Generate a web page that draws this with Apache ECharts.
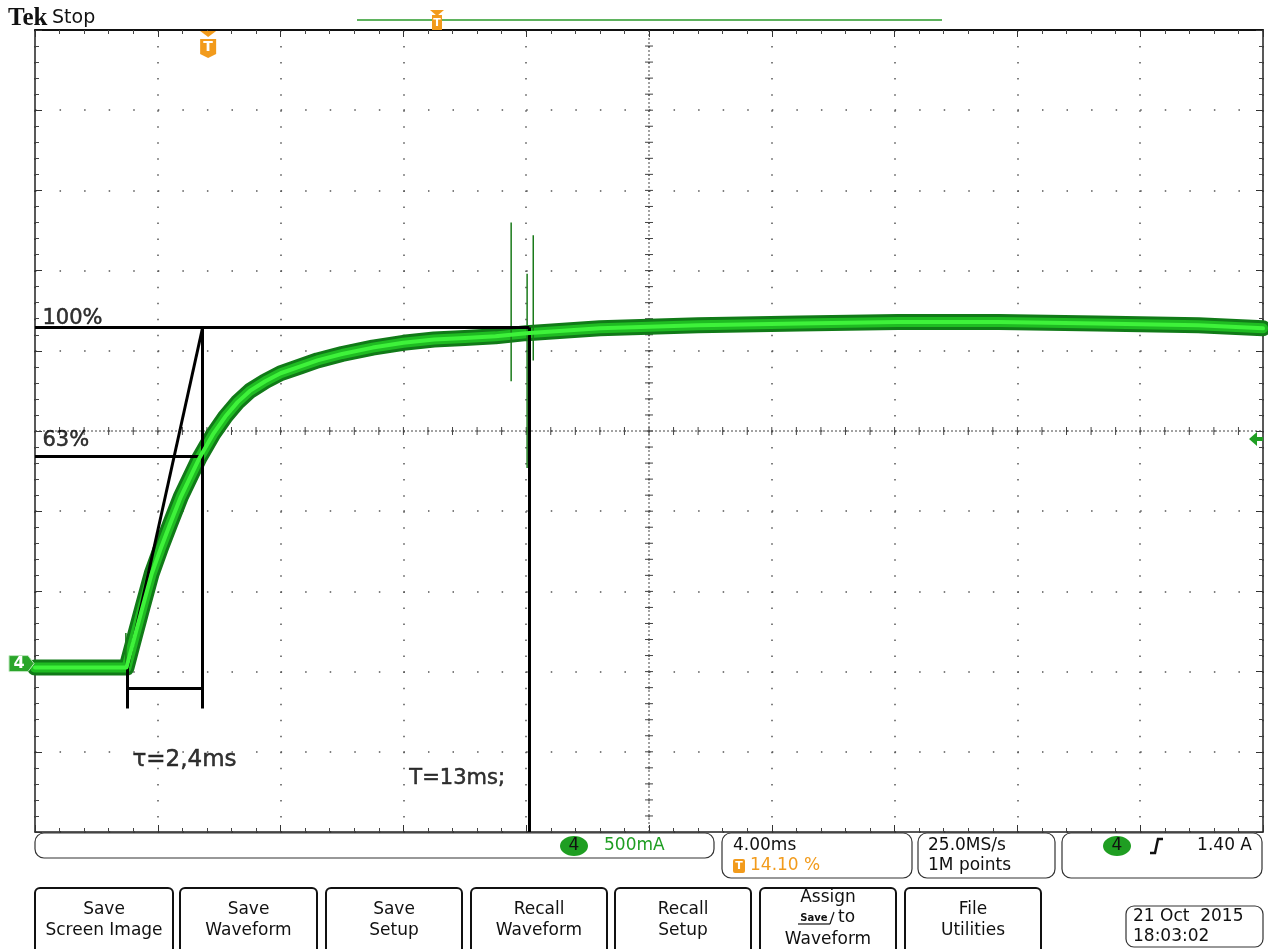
<!DOCTYPE html>
<html>
<head>
<meta charset="utf-8">
<script src="https://cdn.jsdelivr.net/npm/echarts/dist/echarts.min.js"></script>
<style>
html,body{margin:0;padding:0;background:#fff;}
#chart{width:1268px;height:949px;}
</style>
</head>
<body>
<div id="chart"></div>
<script>
// ---- data (time in ms from left edge of screen, current in A) ----
const timeMs   = [0, 2.98, 3.02, 3.25, 3.5, 3.8, 4.1, 4.4, 4.75, 5.05, 5.35, 5.8, 6.2, 6.6, 7.0, 7.5, 8.0, 8.6, 9.2, 10.0, 11.0, 12.0, 13.0, 14.0, 15.0, 16.0, 18.4, 21.6, 24.9, 28.1, 31.4, 34.6, 37.9, 40];
const currentA = [-0.025, -0.025, -0.02, 0.17, 0.35, 0.56, 0.72, 0.87, 1.04, 1.16, 1.28, 1.43, 1.54, 1.63, 1.70, 1.76, 1.81, 1.85, 1.89, 1.93, 1.97, 2.00, 2.02, 2.03, 2.04, 2.06, 2.09, 2.11, 2.12, 2.13, 2.13, 2.12, 2.11, 2.09];
// glitches
const spikeTimeMs = [2.96, 15.51, 16.03, 16.23];
const spikeHighA  = [0.19, 2.75, 2.43, 2.67];
const spikeLowA   = [-0.02, 1.76, 1.22, 1.89];
// scope settings
const timePerDivMs = 4.0;
const ampsPerDiv = 0.5;
const triggerPct = 14.10;
const triggerLevelA = 1.40;
const yMinA = -1.05, yMaxA = 3.95;
// annotation values
const level100 = 2.095, level63 = 1.29;
const tStart = 3.02, tTau = 5.46, tEnd = 16.1;
const bracketA = -0.156, tickEndA = -0.28;
const annoLabels = [
  {t: 0.26, a: 2.15, text: '100%', size: 21},
  {t: 0.26, a: 1.385, text: '63%', size: 21},
  {t: 3.19, a: -0.605, text: 'τ=2,4ms', size: 23},
  {t: 12.21, a: -0.717, text: 'T=13ms;', size: 21}
];

const traceData = timeMs.map((t, i) => [t, currentA[i]]);
const spikeData = [];
spikeTimeMs.forEach((t, i) => { spikeData.push([t, spikeLowA[i]], [t, spikeHighA[i]], [t, null]); });

const GL = 35, GT = 30, GW = 1228, GH = 802;
const chart = echarts.init(document.getElementById('chart'));

function traceSeries(width, color, z) {
  return {type: 'line', data: traceData, xAxisIndex: 0, yAxisIndex: 0, symbol: 'none',
    smooth: false, z: z, silent: true, animation: false,
    lineStyle: {width: width, color: color, cap: 'round', join: 'round'}};
}
const seg = (a, b) => [{coord: a}, {coord: b}];

const baseAxis = {type: 'value', min: 0, max: 10 * timePerDivMs, interval: timePerDivMs};
chart.setOption({
  animation: false,
  grid: {left: GL, top: GT, width: GW, height: GH, containLabel: false},
  xAxis: [
    Object.assign({}, baseAxis, {position: 'bottom',
      axisLine: {show: true, onZero: false, lineStyle: {color: '#222', width: 1.5}},
      axisTick: {show: true, inside: true, length: 7, lineStyle: {color: '#333', width: 1}},
      minorTick: {show: true, splitNumber: 5, length: 4, lineStyle: {color: '#444', width: 1}},
      axisLabel: {show: false},
      splitLine: {show: true, lineStyle: {color: '#555', width: 1.5, type: [1.5, 14.54]}}}),
    Object.assign({}, baseAxis, {position: 'top',
      axisLine: {show: true, onZero: false, lineStyle: {color: '#111', width: 2}},
      axisTick: {show: true, inside: true, length: 7, lineStyle: {color: '#333', width: 1}},
      minorTick: {show: true, splitNumber: 5, length: 4, lineStyle: {color: '#444', width: 1}},
      axisLabel: {show: false}, splitLine: {show: false}})
  ],
  yAxis: [
    {type: 'value', min: yMinA, max: yMaxA, interval: ampsPerDiv, position: 'left',
      axisLine: {show: true, onZero: false, lineStyle: {color: '#222', width: 1.5}},
      axisTick: {show: true, inside: true, length: 7, lineStyle: {color: '#333', width: 1}},
      minorTick: {show: true, splitNumber: 5, length: 4, lineStyle: {color: '#444', width: 1}},
      axisLabel: {show: false},
      splitLine: {show: true, lineStyle: {color: '#555', width: 1.5, type: [1.5, 23.06]}}},
    {type: 'value', min: yMinA, max: yMaxA, interval: ampsPerDiv, position: 'right',
      axisLine: {show: true, onZero: false, lineStyle: {color: '#222', width: 1.5}},
      axisTick: {show: true, inside: true, length: 7, lineStyle: {color: '#333', width: 1}},
      minorTick: {show: true, splitNumber: 5, length: 4, lineStyle: {color: '#444', width: 1}},
      axisLabel: {show: false}, splitLine: {show: false}}
  ],
  series: [
    traceSeries(16, '#117a18', 3),
    traceSeries(10, '#1fbb22', 4),
    traceSeries(4, '#3ef23a', 5),
    {type: 'line', data: spikeData, symbol: 'none', connectNulls: false, z: 4, silent: true,
      lineStyle: {width: 1.5, color: '#1a7a1a'}},
    {type: 'line', data: [], z: 8, silent: true,
      markLine: {silent: true, symbol: ['none', 'none'], label: {show: false}, animation: false,
        lineStyle: {color: '#000', width: 3, type: 'solid'},
        emphasis: {disabled: true},
        data: [
          seg([0, level100], [tEnd, level100]),
          seg([0, level63], [tTau, level63]),
          seg([tTau, level100], [tTau, tickEndA]),
          seg([tStart, currentA[2]], [tStart, tickEndA]),
          seg([tStart, bracketA], [tTau, bracketA]),
          seg([tStart, currentA[2]], [tTau, level100]),
          seg([tEnd, level100], [tEnd, yMinA])
        ]}},
    {type: 'scatter', z: 9, silent: true, symbolSize: 1, itemStyle: {color: 'transparent'},
      data: annoLabels.map(l => ({value: [l.t, l.a], name: l.text,
        label: {fontSize: l.size}})),
      label: {show: true, position: [0, 0], formatter: p => p.name, color: '#000',
        textBorderColor: '#000', textBorderWidth: 0.5,
        fontFamily: 'DejaVu Sans', fontSize: 21, align: 'left', verticalAlign: 'middle'}}
  ]
});

// ---- decorations computed from the axis scales ----
const px = t => chart.convertToPixel({xAxisIndex: 0}, t);
const py = a => chart.convertToPixel({yAxisIndex: 0}, a);
const g = [];
const ORANGE = '#f29b1c', GREEN = '#1f9e22';
function txt(x, y, text, font, fill, align, z) {
  g.push({type: 'text', x: x, y: y, z: z || 20, silent: true,
    style: {text: text, font: font, fill: fill || '#111', align: align || 'left', textAlign: align || 'left',
      verticalAlign: 'middle', textVerticalAlign: 'middle'}});
}
function line(x1, y1, x2, y2, stroke, w, dash, z) {
  g.push({type: 'line', z: z || 1, silent: true, shape: {x1, y1, x2, y2},
    style: {stroke: stroke, lineWidth: w, lineDash: dash || null}});
}
function rrect(x, y, w, h, r, stroke, lw, fill, z) {
  g.push({type: 'rect', z: z || 20, silent: true, shape: {x, y, width: w, height: h, r: r},
    style: {stroke: stroke, lineWidth: lw, fill: fill || '#fff'}});
}
function poly(points, fill, stroke, z) {
  g.push({type: 'polygon', z: z || 20, silent: true, shape: {points: points},
    style: {fill: fill, stroke: stroke || null, lineWidth: 1}});
}

// center cross
const cx = px(5 * timePerDivMs), cy = py((yMinA + yMaxA) / 2);
const L = px(0), R = px(10 * timePerDivMs), TOP = py(yMaxA), BOT = py(yMinA);
line(L, cy, R, cy, '#444', 1, [2, 2], 1);
line(cx, TOP, cx, BOT, '#444', 1, [2, 2], 1);
for (let k = 1; k < 50; k++) {
  const x = L + (R - L) * k / 50;
  line(x, cy - 4, x, cy + 4, '#444', 1, null, 1);
  const y = TOP + (BOT - TOP) * k / 50;
  line(cx - 4, y, cx + 4, y, '#444', 1, null, 1);
}

// header
txt(8, 19, 'Tek', 'bold 25px "Liberation Serif"', '#111');
txt(52, 18, 'Stop', '19px "DejaVu Sans"', '#111');
line(357, 20, 942, 20, '#2a9a2a', 1.5, null, 20);
g.push({type: 'rect', z: 21, silent: true, shape: {x: 432, y: 15, width: 10, height: 15}, style: {fill: ORANGE}});
poly([[430, 10], [444, 10], [437, 16]], ORANGE, null, 21);
txt(437, 23, 'T', 'bold 11px "DejaVu Sans"', '#fff', 'center', 22);

// trigger position marker
const tx = px(triggerPct / 100 * 10 * timePerDivMs);
poly([[tx - 8, 31], [tx + 8, 31], [tx, 37]], ORANGE, null, 21);
poly([[tx - 8, 39], [tx + 8, 39], [tx + 8, 54], [tx, 58], [tx - 8, 54]], ORANGE, null, 21);
txt(tx, 47, 'T', 'bold 14px "DejaVu Sans"', '#fff', 'center', 22);

// ground marker for channel 4
const y0 = py(0);
poly([[9, y0 - 8], [28, y0 - 8], [34, y0], [28, y0 + 8], [9, y0 + 8]], '#2aa52a', '#bfe8bf', 21);
txt(19, y0, '4', 'bold 16px "DejaVu Sans"', '#fff', 'center', 22);

// trigger level arrow
const ty = py(triggerLevelA);
poly([[1249, ty], [1257, ty - 7], [1257, ty - 2], [1263, ty - 2], [1263, ty + 2], [1257, ty + 2], [1257, ty + 7]], GREEN, null, 21);

// status bar
const F = '17px "DejaVu Sans"';
rrect(35, 833, 679, 25, 9, '#333', 1.2);
g.push({type: 'ellipse', z: 21, silent: true, shape: {cx: 574, cy: 846, rx: 14, ry: 10}, style: {fill: GREEN}});
txt(574, 846, '4', F, '#111', 'center', 22);
txt(604, 846, '500mA', F, GREEN);
rrect(722, 833, 190, 45, 9, '#333', 1.2);
txt(733, 846, '4.00ms', F, '#111');
g.push({type: 'rect', z: 21, silent: true, shape: {x: 733, y: 859, width: 12, height: 14, r: 2}, style: {fill: ORANGE}});
txt(739, 866, 'T', 'bold 11px "DejaVu Sans"', '#fff', 'center', 22);
txt(750, 866, '14.10 %', F, ORANGE);
rrect(918, 833, 137, 45, 9, '#333', 1.2);
txt(928, 846, '25.0MS/s', F, '#111');
txt(928, 866, '1M points', F, '#111');
rrect(1062, 833, 200, 45, 9, '#333', 1.2);
g.push({type: 'ellipse', z: 21, silent: true, shape: {cx: 1117, cy: 846, rx: 14, ry: 10}, style: {fill: GREEN}});
txt(1117, 846, '4', F, '#111', 'center', 22);
g.push({type: 'polyline', z: 21, silent: true, shape: {points: [[1150, 853], [1155, 853], [1158, 839], [1163, 839]]},
  style: {stroke: '#111', lineWidth: 2.5, fill: null}});
txt(1252, 846, '1.40 A', F, '#111', 'right');

// soft buttons
const buttons = [
  {x: 35, w: 138, lines: ['Save', 'Screen Image']},
  {x: 180, w: 137, lines: ['Save', 'Waveform']},
  {x: 326, w: 136, lines: ['Save', 'Setup']},
  {x: 471, w: 136, lines: ['Recall', 'Waveform']},
  {x: 615, w: 136, lines: ['Recall', 'Setup']},
  {x: 760, w: 136, lines: ['Assign', '', 'Waveform']},
  {x: 905, w: 136, lines: ['File', 'Utilities']}
];
buttons.forEach(b => {
  rrect(b.x, 888, b.w, 70, 5, '#111', 2);
  const mid = b.x + b.w / 2;
  if (b.lines.length === 2) {
    txt(mid, 910, b.lines[0], F, '#111', 'center');
    txt(mid, 931, b.lines[1], F, '#111', 'center');
  } else {
    txt(mid, 898, b.lines[0], F, '#111', 'center');
    txt(mid - 14, 918, 'Save', 'bold 10px "DejaVu Sans"', '#111', 'center');
    line(mid - 30, 924, mid + 2, 924, '#111', 1.2, null, 21);
    line(mid + 2, 924, mid + 6, 912, '#111', 1.2, null, 21);
    txt(mid + 10, 918, 'to', F, '#111', 'left');
    txt(mid, 940, b.lines[2], F, '#111', 'center');
  }
});
rrect(1126, 906, 137, 41, 8, '#333', 1.2);
txt(1133, 917, '21 Oct  2015', F, '#111');
txt(1133, 937, '18:03:02', F, '#111');

chart.setOption({graphic: {elements: g}});
</script>
</body>
</html>
